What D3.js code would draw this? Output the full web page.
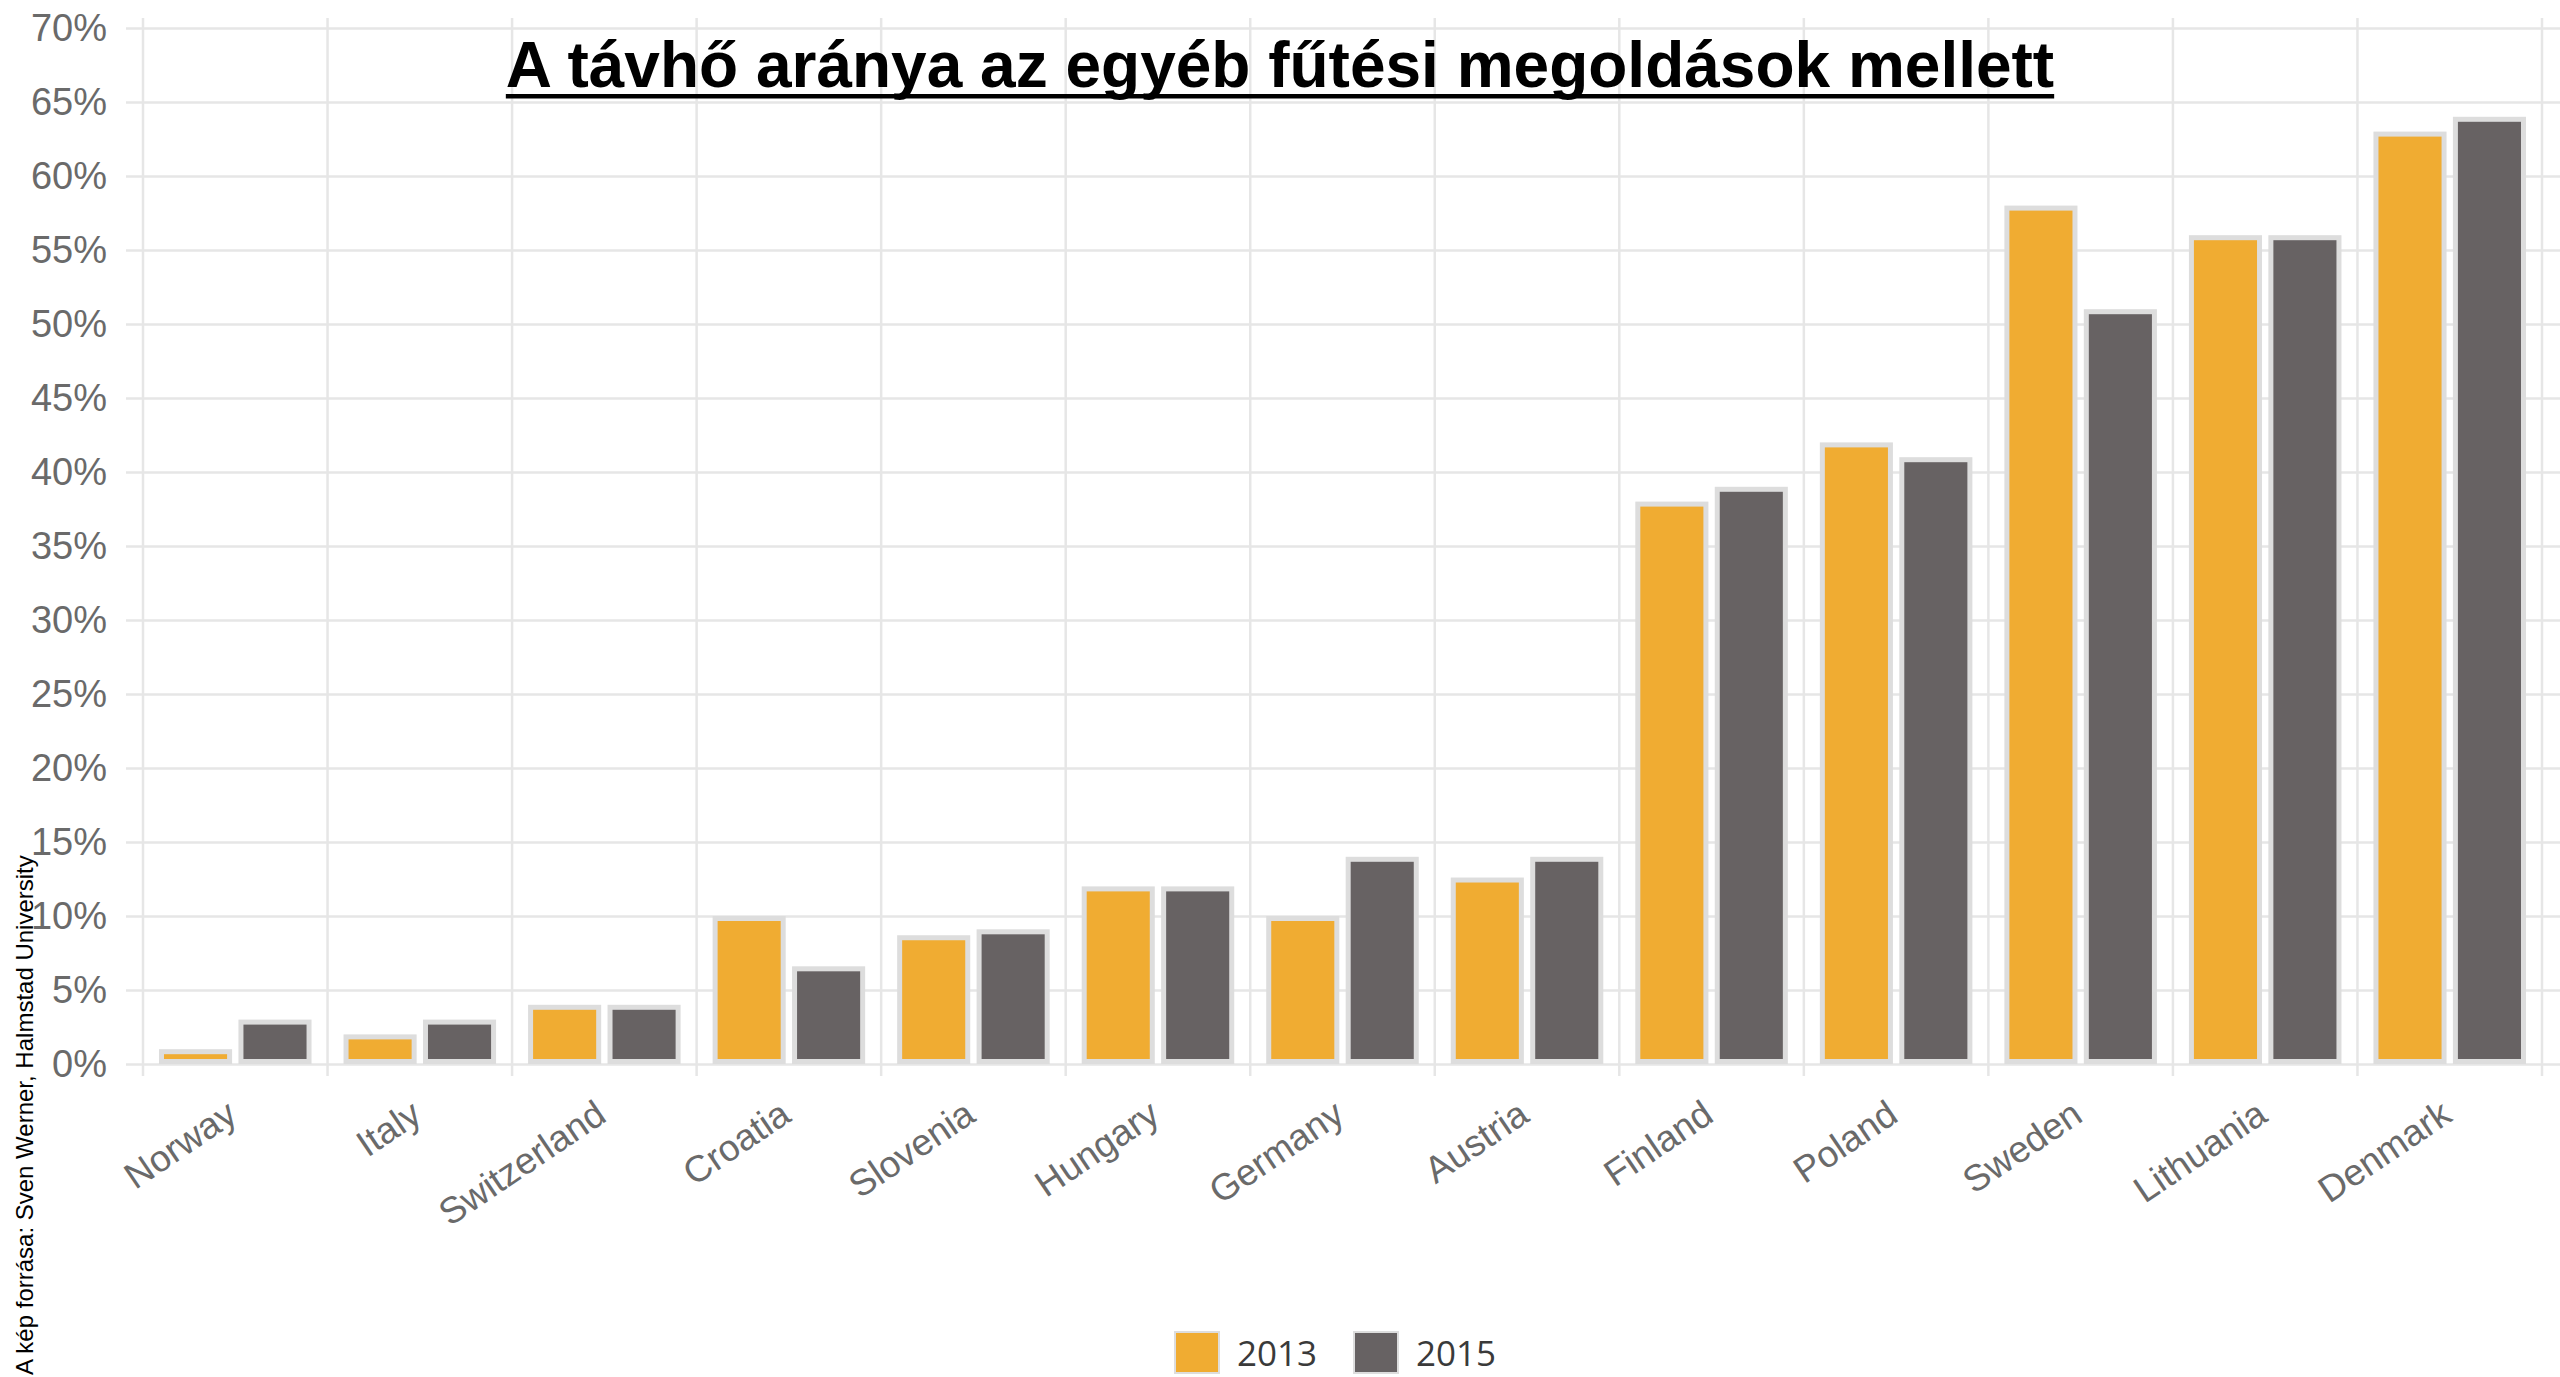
<!DOCTYPE html>
<html lang="hu">
<head>
    <meta charset="utf-8"/>
    <title>A távhő aránya</title>
    <script src="https://d3js.org/d3.v7.min.js"></script>
    <style>
        body { margin: 0; background: #fff; }
        svg { display: block; }
    </style>
</head>
<body>
<script>
    // data (per cent)
    const countries = ["Norway", "Italy", "Switzerland", "Croatia", "Slovenia", "Hungary", "Germany",
        "Austria", "Finland", "Poland", "Sweden", "Lithuania", "Denmark"];
    const series = ["2013", "2015"];
    const values2013 = [1, 2, 4, 10, 8.7, 12, 10, 12.6, 38, 42, 58, 56, 63];
    const values2015 = [3, 3, 4, 6.6, 9.1, 12, 14, 14, 39, 41, 51, 56, 64];
    const yTicks = [0, 5, 10, 15, 20, 25, 30, 35, 40, 45, 50, 55, 60, 65, 70];
    const colors = ["#f0ac32", "#676263"];

    const W = 2560, H = 1377;
    const plotLeft = 143, plotRight = 2542, plotTop = 28, plotBottom = 1064;

    const rows = countries.map((c, i) => ({country: c, vals: [values2013[i], values2015[i]]}));

    const svg = d3.select("body").append("svg")
        .attr("width", W)
        .attr("height", H);

    const x0 = d3.scaleBand().domain(countries).range([plotLeft, plotRight]).padding(0);
    const x1 = d3.scaleBand().domain(series).range([16, x0.bandwidth() - 16]).paddingInner(0.08);
    const y = d3.scaleLinear().domain([0, 70]).range([plotBottom, plotTop]);

    const axisFont = "'Liberation Sans', Arial, sans-serif";

    // horizontal grid + y labels
    const yAxis = svg.append("g")
        .attr("transform", `translate(${plotLeft},0)`)
        .call(d3.axisLeft(y).tickValues(yTicks).tickFormat(d => d + "%")
            .tickSize(-(W - plotLeft)).tickPadding(36));
    yAxis.select(".domain").remove();
    yAxis.selectAll(".tick line")
        .attr("x1", -17)
        .attr("stroke", "#e6e6e6")
        .attr("stroke-width", 2.5);
    yAxis.selectAll(".tick text")
        .attr("fill", "#6a6a6a")
        .style("font-family", axisFont)
        .style("font-size", "38px");

    // vertical grid at band edges
    const edges = countries.map(c => x0(c)).concat([plotRight]);
    svg.append("g").selectAll("line")
        .data(edges)
        .join("line")
        .attr("x1", d => d).attr("x2", d => d)
        .attr("y1", 18).attr("y2", 1076)
        .attr("stroke", "#e6e6e6")
        .attr("stroke-width", 2.5);

    // bars, with their light grey rim kept inside the value
    const sw = 5;
    svg.append("g").selectAll("g")
        .data(rows)
        .join("g")
        .attr("transform", d => `translate(${x0(d.country)},0)`)
        .selectAll("rect")
        .data(d => d.vals.map((v, i) => ({key: series[i], v, i})))
        .join("rect")
        .attr("x", d => x1(d.key) + sw / 2)
        .attr("y", d => y(d.v) + sw / 2)
        .attr("width", x1.bandwidth() - sw)
        .attr("height", d => Math.max(0, y(0) - y(d.v) - sw))
        .attr("fill", d => colors[d.i])
        .attr("stroke", "#dddddd")
        .attr("stroke-width", sw);

    // rotated country labels
    svg.append("g").selectAll("text")
        .data(countries)
        .join("text")
        .attr("transform", d => `translate(${x0(d) + x0.bandwidth() / 2 + 4},1120) rotate(-34)`)
        .attr("text-anchor", "end")
        .attr("fill", "#6a6a6a")
        .style("font-family", axisFont)
        .style("font-size", "37px")
        .text(d => d);

    // title, underlined
    const title = svg.append("text")
        .attr("x", W / 2)
        .attr("y", 87)
        .attr("text-anchor", "middle")
        .style("font-family", axisFont)
        .style("font-weight", "bold")
        .style("font-size", "64px")
        .attr("fill", "#000")
        .text("A távhő aránya az egyéb fűtési megoldások mellett");
    const tb = title.node().getBBox();
    svg.append("rect")
        .attr("x", tb.x).attr("y", 94)
        .attr("width", tb.width).attr("height", 4.5)
        .attr("fill", "#000");

    // image source, vertical at the left edge
    svg.append("text")
        .attr("transform", "translate(33,1375) rotate(-90)")
        .style("font-family", axisFont)
        .style("font-size", "24px")
        .attr("fill", "#000")
        .text("A kép forrása: Sven Werner, Halmstad University");

    // legend
    const legendX = [1174, 1353];
    const legend = svg.append("g").selectAll("g")
        .data(series)
        .join("g")
        .attr("transform", (d, i) => `translate(${legendX[i]},1331)`);
    legend.append("rect")
        .attr("x", 1).attr("y", 1)
        .attr("width", 44).attr("height", 41)
        .attr("fill", (d, i) => colors[i])
        .attr("stroke", "#dddddd")
        .attr("stroke-width", 2);
    legend.append("text")
        .attr("x", 63).attr("y", 35)
        .attr("fill", "#3a3a3a")
        .style("font-family", "'Open Sans', sans-serif")
        .style("font-size", "35px")
        .text(d => d);
</script>
</body>
</html>
